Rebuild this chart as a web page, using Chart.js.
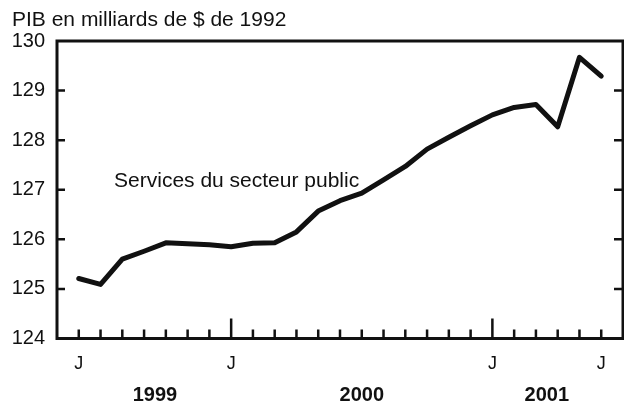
<!DOCTYPE html>
<html>
<head>
<meta charset="utf-8">
<script src="https://cdn.jsdelivr.net/npm/chart.js@4/dist/chart.umd.min.js"></script>
<style>
  html, body { margin: 0; padding: 0; background: #fff; }
  #wrap { width: 624px; height: 402px; }
</style>
</head>
<body>
<div id="wrap"><canvas id="graphique"></canvas></div>
<script>
// Mois : juin 1999 à juin 2001
const mois = ['1999-06', '1999-07', '1999-08', '1999-09', '1999-10', '1999-11', '1999-12',
  '2000-01', '2000-02', '2000-03', '2000-04', '2000-05', '2000-06', '2000-07', '2000-08',
  '2000-09', '2000-10', '2000-11', '2000-12', '2001-01', '2001-02', '2001-03', '2001-04',
  '2001-05', '2001-06'];
// PIB, services du secteur public (milliards de $ de 1992)
const pib = [125.21, 125.09, 125.60, 125.76, 125.93, 125.91, 125.89, 125.85, 125.92, 125.93,
  126.15, 126.57, 126.78, 126.93, 127.20, 127.47, 127.82, 128.06, 128.29, 128.51,
  128.66, 128.72, 128.27, 129.67, 129.29];
const etiquettesMois = ['J', '', '', '', '', '', '', 'J', '', '', '', '', '', '', '', '', '', '', '', 'J', '', '', '', '', 'J'];
const grandsTraits = [7, 19];
const annees = ['1999', '2000', '2001'];
const centresAnnees = [3.5, 13, 21.5];
const yTicks = [124, 125, 126, 127, 128, 129, 130];

const POLICE = '"Liberation Sans", Arial, sans-serif';

// cadre, traits de graduation intérieurs, titres
const decor = {
  id: 'decor',
  afterDraw(chart) {
    const ctx = chart.ctx;
    const a = chart.chartArea;
    const x = chart.scales.x, y = chart.scales.y;
    ctx.save();
    ctx.strokeStyle = '#111';
    ctx.lineWidth = 3;
    ctx.strokeRect(a.left, a.top, a.right - a.left, a.bottom - a.top);

    ctx.lineWidth = 2.5;
    ctx.beginPath();
    mois.forEach((m, i) => {
      const px = x.getPixelForValue(i);
      const len = grandsTraits.includes(i) ? 20 : 9;
      ctx.moveTo(px, a.bottom);
      ctx.lineTo(px, a.bottom - len);
    });
    yTicks.slice(1, -1).forEach(v => {
      const py = y.getPixelForValue(v);
      ctx.moveTo(a.left, py);
      ctx.lineTo(a.left + 8, py);
      ctx.moveTo(a.right, py);
      ctx.lineTo(a.right - 9, py);
    });
    ctx.stroke();

    ctx.fillStyle = '#111';
    ctx.textBaseline = 'alphabetic';
    ctx.textAlign = 'left';
    ctx.font = '21px ' + POLICE;
    ctx.fillText('PIB en milliards de $ de 1992', 12, 26);
    ctx.fillText('Services du secteur public', x.getPixelForValue(1.62), y.getPixelForValue(127) - 3);

    ctx.textAlign = 'center';
    ctx.font = 'bold 20px ' + POLICE;
    annees.forEach((an, k) => {
      ctx.fillText(an, x.getPixelForValue(centresAnnees[k]), 401);
    });
    ctx.restore();
  }
};

new Chart(document.getElementById('graphique'), {
  type: 'line',
  data: {
    datasets: [{
      label: 'Services du secteur public',
      data: pib.map((v, i) => ({ x: i, y: v })),
      borderColor: '#111',
      borderWidth: 5,
      borderCapStyle: 'round',
      borderJoinStyle: 'round',
      pointRadius: 0,
      tension: 0,
      fill: false
    }]
  },
  options: {
    responsive: true,
    maintainAspectRatio: false,
    animation: false,
    layout: { padding: { top: 41, right: 1, left: 0, bottom: 0 } },
    plugins: { legend: { display: false }, title: { display: false }, tooltip: { enabled: false } },
    scales: {
      x: {
        type: 'linear',
        min: -1,
        max: 25,
        afterBuildTicks: s => { s.ticks = mois.map((m, i) => ({ value: i })); },
        afterFit: s => { s.height = 402 - 338.5; },
        grid: { display: false, drawTicks: false },
        border: { display: false },
        ticks: {
          autoSkip: false,
          maxRotation: 0,
          padding: 15,
          color: '#111',
          font: { family: POLICE, size: 18 },
          callback: v => etiquettesMois[v] ?? ''
        }
      },
      y: {
        min: 124,
        max: 130,
        afterBuildTicks: s => { s.ticks = yTicks.map(v => ({ value: v })); },
        afterFit: s => { s.width = 57; },
        grid: { display: false, drawTicks: false },
        border: { display: false },
        ticks: {
          padding: 12,
          color: '#111',
          font: { family: POLICE, size: 20 }
        }
      }
    }
  },
  plugins: [decor]
});
</script>
</body>
</html>
